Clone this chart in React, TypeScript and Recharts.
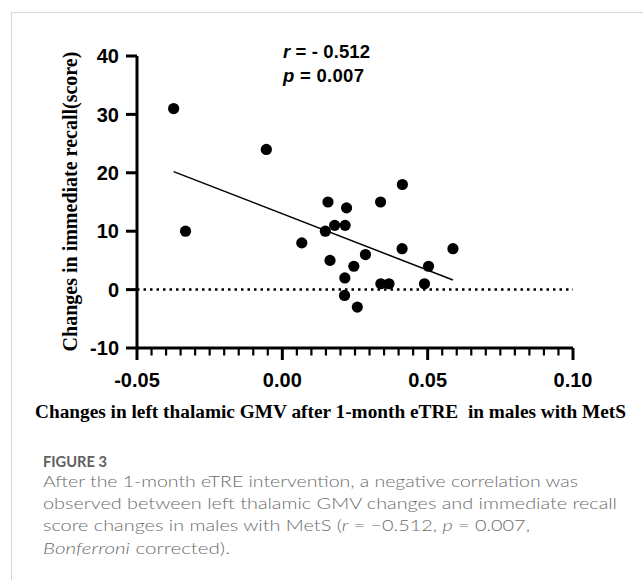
import React from 'react';
import { ScatterChart, Scatter, XAxis, YAxis, ReferenceLine } from 'recharts';

// Changes in left thalamic GMV (x) and immediate recall score (y)
const gmvChange = [
  -0.0374, -0.0333, -0.0055, 0.0067, 0.0157, 0.0148, 0.018, 0.0216, 0.0221, 0.0164, 0.0215, 0.0214,
  0.0258, 0.0246, 0.0286, 0.0338, 0.0339, 0.0367, 0.0413, 0.0412, 0.0489, 0.0503, 0.0587,
];
const recallChange = [31, 10, 24, 8, 15, 10, 11, 11, 14, 5, 2, -1, -3, 4, 6, 15, 1, 1, 18, 7, 1, 4, 7];

const xMajorTicks = [-0.05, 0, 0.05, 0.1];
const xTickLabels = ['-0.05', '0.00', '0.05', '0.10'];
const yTicks = [-10, 0, 10, 20, 30, 40];
const yTickLabels = ['-10', '0', '10', '20', '30', '40'];
const xDomain: [number, number] = [-0.05, 0.1];
const yDomain: [number, number] = [-10, 40];
const minorPerMajor = 10;

const points = gmvChange.map((x, i) => ({ x, y: recallChange[i] }));

// least-squares fit line
const n = points.length;
const mx = gmvChange.reduce((a, b) => a + b, 0) / n;
const my = recallChange.reduce((a, b) => a + b, 0) / n;
let sxy = 0;
let sxx = 0;
points.forEach((p) => {
  sxy += (p.x - mx) * (p.y - my);
  sxx += (p.x - mx) * (p.x - mx);
});
const slope = sxy / sxx;
const intercept = my - slope * mx;
const xMin = Math.min(...gmvChange);
const xMax = Math.max(...gmvChange);
const fitSegment = [
  { x: xMin, y: intercept + slope * xMin },
  { x: xMax, y: intercept + slope * xMax },
];

const minorStep = (xMajorTicks[1] - xMajorTicks[0]) / minorPerMajor;
const xAllTicks: number[] = [];
for (let i = 0; i <= (xMajorTicks.length - 1) * minorPerMajor; i++) {
  xAllTicks.push(Math.round((xMajorTicks[0] + i * minorStep) * 100000) / 100000);
}

const tickFont = "'Liberation Sans', Arial, Helvetica, sans-serif";
const serifFont = "'Liberation Serif', 'Times New Roman', serif";
const captionFont = "Lato, 'Open Sans', sans-serif";

const XTick = (props: any) => {
  const { x, y, payload } = props;
  const v = payload.value;
  const idx = xMajorTicks.findIndex((m) => Math.abs(m - v) < 1e-9);
  const major = idx >= 0;
  return (
    <g>
      <line
        x1={x}
        x2={x}
        y1={y}
        y2={y + (major ? 12 : 7.5)}
        stroke="#000"
        strokeWidth={major ? 3 : 2.2}
      />
      {major && (
        <text
          x={x}
          y={y + 39}
          textAnchor="middle"
          fontFamily={tickFont}
          fontWeight={700}
          fontSize={20}
          fill="#000"
        >
          {xTickLabels[idx]}
        </text>
      )}
    </g>
  );
};

const Dot = (props: any) => {
  const { cx, cy } = props;
  return <circle cx={cx} cy={cy} r={5.6} fill="#000" />;
};

export default function App() {
  return (
    <div style={{ position: 'absolute', left: 0, top: 0, width: 643, height: 580, background: '#fff', overflow: 'hidden' }}>
      <div
        style={{
          position: 'absolute',
          left: 11,
          top: 12,
          width: 700,
          height: 700,
          borderLeft: '1px solid #d6d6d6',
          borderTop: '1px solid #d6d6d6',
        }}
      />
      <div style={{ position: 'absolute', left: 0, top: 0 }}>
        <ScatterChart width={643} height={430} margin={{ top: 56, right: 70, bottom: 0, left: 0 }}>
          <XAxis
            type="number"
            dataKey="x"
            domain={xDomain}
            ticks={xAllTicks}
            interval={0}
            tick={<XTick />}
            tickLine={false}
            tickSize={0}
            tickMargin={0}
            height={82}
            axisLine={{ stroke: '#000', strokeWidth: 3 }}
            allowDataOverflow
          />
          <YAxis
            type="number"
            dataKey="y"
            domain={yDomain}
            ticks={yTicks}
            interval={0}
            width={137}
            tickSize={11}
            tickMargin={7}
            tickFormatter={(v: number) => yTickLabels[yTicks.indexOf(v)]}
            tick={{ fill: '#000', fontSize: 20, fontWeight: 700, fontFamily: tickFont }}
            tickLine={{ stroke: '#000', strokeWidth: 3 }}
            axisLine={{ stroke: '#000', strokeWidth: 3 }}
            allowDataOverflow
          />
          <ReferenceLine y={0} stroke="#000" strokeWidth={2.5} strokeDasharray="2.5 4" />
          <ReferenceLine segment={fitSegment} stroke="#000" strokeWidth={1.5} />
          <Scatter data={points} shape={<Dot />} isAnimationActive={false} />
        </ScatterChart>
      </div>
      <svg
        width={643}
        height={580}
        style={{ position: 'absolute', left: 0, top: 0, pointerEvents: 'none' }}
      >
        <text x={283} y={58} fontFamily={tickFont} fontWeight={700} fontSize={18.5} fill="#000" textLength={87} lengthAdjust="spacing">
          <tspan fontStyle="italic">r</tspan> = - 0.512
        </text>
        <text x={283} y={82} fontFamily={tickFont} fontWeight={700} fontSize={18.5} fill="#000" textLength={81} lengthAdjust="spacing">
          <tspan fontStyle="italic">p</tspan> = 0.007
        </text>
        <text
          x={0}
          y={0}
          transform="translate(77,201.5) rotate(-90)"
          textAnchor="middle"
          fontFamily={serifFont}
          fontWeight={700}
          fontSize={20}
          fill="#000"
        >
          Changes in immediate recall(score)
        </text>
        <text
          x={35}
          y={418}
          fontFamily={serifFont}
          fontWeight={700}
          fontSize={19.3}
          fill="#000"
          textLength={591}
          lengthAdjust="spacingAndGlyphs"
          style={{ whiteSpace: 'pre' }}
        >
          {'Changes in left thalamic GMV after 1-month eTRE  in males with MetS'}
        </text>
        <text x={43} y={467} fontFamily={captionFont} fontWeight={700} fontSize={15} fill="#606060" textLength={64} lengthAdjust="spacingAndGlyphs">
          FIGURE 3
        </text>
        <text x={43} y={486.5} fontFamily={captionFont} fontWeight={300} fontSize={16.5} fill="#6c6c6c" textLength={535} lengthAdjust="spacingAndGlyphs">
          After the 1-month eTRE intervention, a negative correlation was
        </text>
        <text x={43} y={508.5} fontFamily={captionFont} fontWeight={300} fontSize={16.5} fill="#6c6c6c" textLength={574} lengthAdjust="spacingAndGlyphs">
          observed between left thalamic GMV changes and immediate recall
        </text>
        <text x={43} y={531} fontFamily={captionFont} fontWeight={300} fontSize={16.5} fill="#6c6c6c" textLength={487} lengthAdjust="spacingAndGlyphs">
          score changes in males with MetS (<tspan fontStyle="italic">r</tspan> = −0.512, <tspan fontStyle="italic">p</tspan> = 0.007,
        </text>
        <text x={43} y={553.5} fontFamily={captionFont} fontWeight={300} fontSize={16.5} fill="#6c6c6c" textLength={187} lengthAdjust="spacingAndGlyphs">
          <tspan fontStyle="italic">Bonferroni</tspan> corrected).
        </text>
      </svg>
    </div>
  );
}
